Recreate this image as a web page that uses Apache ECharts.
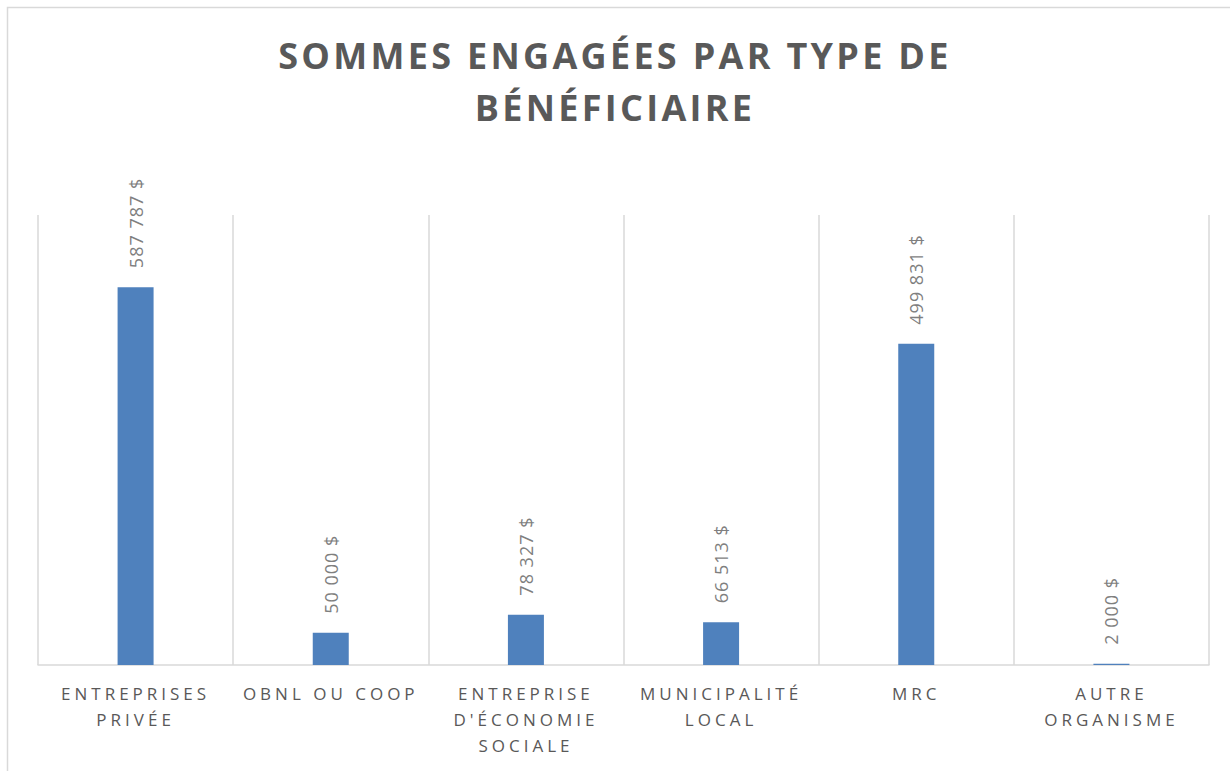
<html lang="fr">
<head>
  <meta charset="UTF-8">
  <title>Sommes engagées par type de bénéficiaire</title>
  <script src="https://cdn.jsdelivr.net/npm/echarts@6/dist/echarts.min.js"></script>
  <style>
    body { margin: 0; padding: 0; background: #ffffff; }
    #chart { width: 1230px; height: 771px; }
    /* spacing of the letters, like the Excel chart */
    #chart text[fill="#595959"] { letter-spacing: 3.3px; }
    #chart text[fill="#595858"] { letter-spacing: 4px; }
    #chart text[fill="#7f7f7f"] { letter-spacing: 1px; }
  </style>
</head>
<body>
  <div id="chart"></div>
  <script>
    const categories = [
      'ENTREPRISES\nPRIVÉE',
      'OBNL OU COOP',
      'ENTREPRISE\nD\'ÉCONOMIE\nSOCIALE',
      'MUNICIPALITÉ\nLOCAL',
      'MRC',
      'AUTRE\nORGANISME'
    ];
    const amounts = [587787, 50000, 78327, 66513, 499831, 2000];

    function money(v) {
      return String(v).replace(/\B(?=(\d{3})+(?!\d))/g, ' ') + ' $';
    }

    const chart = echarts.init(document.getElementById('chart'), null, { renderer: 'svg' });

    chart.setOption({
      backgroundColor: '#ffffff',
      animation: false,
      title: {
        text: 'SOMMES ENGAGÉES PAR TYPE DE\nBÉNÉFICIAIRE',
        left: 'center',
        top: 24,
        textStyle: {
          fontFamily: 'Open Sans',
          fontWeight: 'bold',
          fontSize: 36,
          lineHeight: 52,
          color: '#595959'
        }
      },
      graphic: [{
        type: 'rect',
        shape: { x: 7.5, y: 7.5, width: 1260, height: 800 },
        style: { fill: 'none', stroke: '#d9d9d9', lineWidth: 1.5 },
        silent: true
      }],
      grid: { left: 38, right: 21, top: 215, bottom: 106 },
      xAxis: {
        type: 'category',
        data: categories,
        axisLine: { lineStyle: { color: '#d9d9d9', width: 1.5 } },
        axisTick: { show: false },
        splitLine: { show: true, lineStyle: { color: '#d9d9d9', width: 1.5 } },
        axisLabel: {
          interval: 0,
          margin: 15,
          fontFamily: 'Open Sans',
          fontSize: 17,
          lineHeight: 26,
          color: '#595858'
        }
      },
      yAxis: {
        type: 'value',
        min: 0,
        max: 700000,
        show: false,
        splitLine: { show: false }
      },
      series: [{
        type: 'bar',
        data: amounts,
        barWidth: 36,
        itemStyle: { color: '#4f81bd' },
        label: {
          show: true,
          position: 'top',
          rotate: 90,
          align: 'left',
          verticalAlign: 'middle',
          distance: 19,
          fontFamily: 'Open Sans',
          fontSize: 18,
          color: '#7f7f7f',
          formatter: p => money(p.value)
        }
      }]
    });
  </script>
</body>
</html>
